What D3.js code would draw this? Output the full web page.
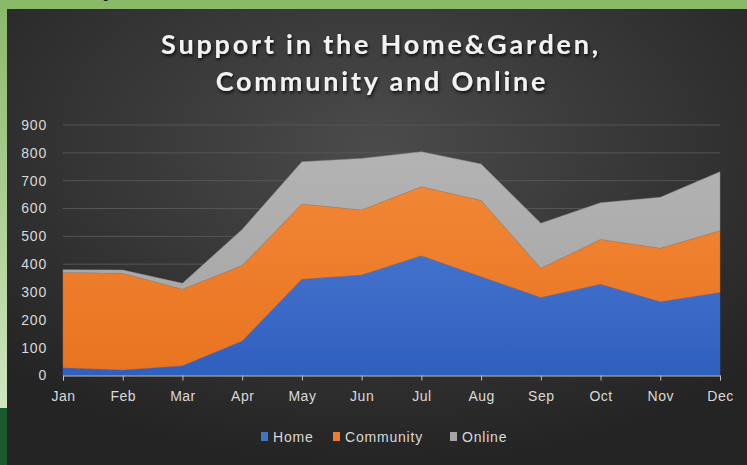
<!DOCTYPE html>
<html>
<head>
<meta charset="utf-8">
<script src="https://cdn.jsdelivr.net/npm/d3@7"></script>
<style>
  body { margin: 0; background: #8bb96a; }
  svg { display: block; }
</style>
</head>
<body>
<div id="chart"></div>
<script>
var months = ["Jan", "Feb", "Mar", "Apr", "May", "Jun", "Jul", "Aug", "Sep", "Oct", "Nov", "Dec"];
var home = [28, 20, 35, 124, 346, 361, 430, 355, 280, 328, 265, 298];
var community = [342, 347, 275, 271, 270, 234, 248, 274, 105, 161, 192, 222];
var online = [10, 12, 21, 130, 152, 185, 126, 131, 162, 132, 183, 212];
var yTicks = [0, 100, 200, 300, 400, 500, 600, 700, 800, 900];
var seriesNames = ["Home", "Community", "Online"];

var width = 747, height = 465;
var labelFont = "'Liberation Sans', 'DejaVu Sans', sans-serif";

var svg = d3.select("#chart").append("svg")
    .attr("width", width)
    .attr("height", height);

var defs = svg.append("defs");

// dark panel background
var bg = defs.append("radialGradient")
    .attr("id", "bg")
    .attr("cx", "50%").attr("cy", "30%").attr("r", "70%");
bg.append("stop").attr("offset", "0%").attr("stop-color", "#4b4b4b");
bg.append("stop").attr("offset", "100%").attr("stop-color", "#242424");

var leftStrip = defs.append("linearGradient")
    .attr("id", "strip").attr("x1", 0).attr("y1", 0).attr("x2", 0).attr("y2", 1);
leftStrip.append("stop").attr("offset", "0%").attr("stop-color", "#8bb96a");
leftStrip.append("stop").attr("offset", "100%").attr("stop-color", "#cfe6bf");

var fills = [["#5886da", "#2f5fbf"], ["#f38c3d", "#e9731f"], ["#b5b5b5", "#a3a3a3"]];
fills.forEach(function (c, i) {
    var g = defs.append("linearGradient")
        .attr("id", "fill" + i)
        .attr("gradientUnits", "userSpaceOnUse")
        .attr("x1", 0).attr("y1", 125).attr("x2", 0).attr("y2", 376);
    g.append("stop").attr("offset", "0%").attr("stop-color", c[0]);
    g.append("stop").attr("offset", "100%").attr("stop-color", c[1]);
});

var shadow = defs.append("filter").attr("id", "shadow")
    .attr("x", "-10%").attr("y", "-20%").attr("width", "120%").attr("height", "150%");
shadow.append("feDropShadow")
    .attr("dx", 1).attr("dy", 2).attr("stdDeviation", 1.5)
    .attr("flood-color", "#000").attr("flood-opacity", 0.8);

// green frame pieces
svg.append("rect").attr("x", 0).attr("y", 0).attr("width", width).attr("height", 9).attr("fill", "#8bb96a");
svg.append("rect").attr("x", 0).attr("y", 9).attr("width", 7).attr("height", 399).attr("fill", "url(#strip)");
svg.append("rect").attr("x", 0).attr("y", 408).attr("width", 7).attr("height", 57).attr("fill", "#1b5a2c");
svg.append("text").attr("x", 103).attr("y", -4)
    .attr("font-family", "Liberation Sans, sans-serif").attr("font-size", 26)
    .attr("fill", "#111").text("y");

svg.append("rect")
    .attr("x", 7).attr("y", 9)
    .attr("width", width - 7).attr("height", height - 9)
    .attr("fill", "url(#bg)");

// title
var title = svg.append("text")
    .attr("text-anchor", "middle")
    .attr("font-family", "Lato, 'Open Sans', sans-serif")
    .attr("font-weight", "bold")
    .attr("font-size", 27)
    .attr("letter-spacing", 2.8)
    .attr("fill", "#f2f2f2")
    .attr("filter", "url(#shadow)");
title.append("tspan").attr("x", 381).attr("y", 54).text("Support in the Home&Garden,");
title.append("tspan").attr("x", 382).attr("y", 91).text("Community and Online");

var x = d3.scalePoint().domain(months).range([63, 720]);
var y = d3.scaleLinear().domain([0, 900]).range([375.5, 125]);

// gridlines
svg.append("g")
    .selectAll("line")
    .data(yTicks.slice(1))
    .enter().append("line")
    .attr("x1", 63).attr("x2", 720)
    .attr("y1", function (d) { return y(d); })
    .attr("y2", function (d) { return y(d); })
    .attr("stroke", "#555")
    .attr("stroke-width", 1);

// stacked areas
var table = months.map(function (m, i) {
    return { month: m, Home: home[i], Community: community[i], Online: online[i] };
});
var stack = d3.stack().keys(seriesNames);
var layers = stack(table);

var area = d3.area()
    .x(function (d) { return x(d.data.month); })
    .y0(function (d) { return y(d[0]); })
    .y1(function (d) { return y(d[1]); });

svg.append("g")
    .selectAll("path")
    .data(layers)
    .enter().append("path")
    .attr("d", area)
    .attr("fill", function (d, i) { return "url(#fill" + i + ")"; })
    .attr("stroke", function (d, i) { return ["#3a62b0", "#c9692a", "#8e8e8e"][i]; })
    .attr("stroke-width", 0.8)
    .attr("stroke-opacity", 0.6);

// axes
var xAxis = d3.axisBottom(x).tickSize(5).tickPadding(11);
var gx = svg.append("g")
    .attr("transform", "translate(0,375.5)")
    .call(xAxis);
gx.select(".domain").attr("stroke", "#bfbfbf");
gx.selectAll(".tick line").attr("stroke", "#bfbfbf");
gx.selectAll("text")
    .attr("fill", "#d9d9d9")
    .attr("font-family", labelFont)
    .attr("font-size", 14)
    .attr("letter-spacing", 0.5);

var yAxis = d3.axisLeft(y).tickValues(yTicks).tickSize(0).tickPadding(16);
var gy = svg.append("g")
    .attr("transform", "translate(63,0)")
    .call(yAxis);
gy.select(".domain").remove();
gy.selectAll("text")
    .attr("fill", "#d9d9d9")
    .attr("font-family", labelFont)
    .attr("font-size", 14)
    .attr("letter-spacing", 0.8);

// legend
var legendX = [261, 333, 450];
var legendColors = ["#4472c4", "#ed7d31", "#a5a5a5"];
var legend = svg.append("g");
seriesNames.forEach(function (name, i) {
    legend.append("rect")
        .attr("x", legendX[i]).attr("y", 432)
        .attr("width", 7).attr("height", 9)
        .attr("fill", legendColors[i]);
    legend.append("text")
        .attr("x", legendX[i] + 12).attr("y", 442)
        .attr("fill", "#d9d9d9")
        .attr("font-family", labelFont)
        .attr("font-size", 14)
        .attr("letter-spacing", 0.8)
        .text(name);
});
</script>
</body>
</html>
